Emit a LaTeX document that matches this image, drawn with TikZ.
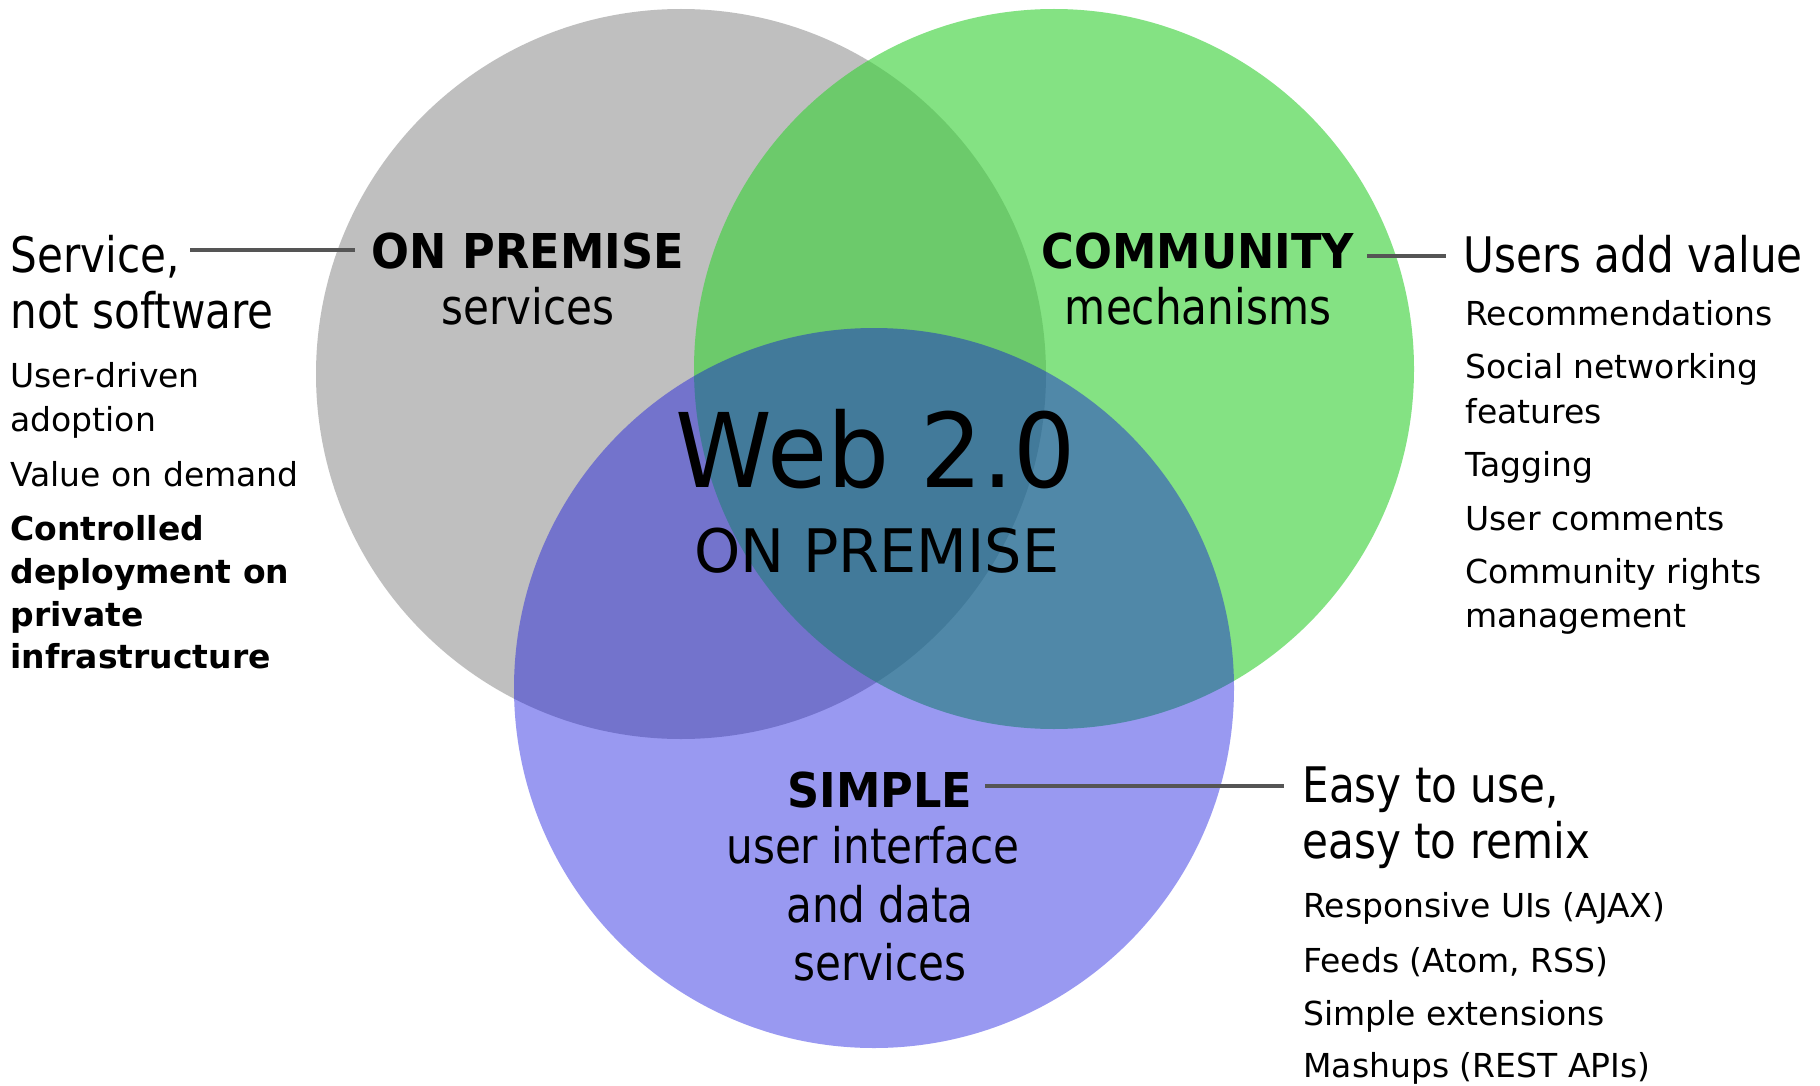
\documentclass[tikz,border=0pt]{standalone}
\usepackage{fontspec}
\setmainfont{DejaVu Sans}
\newfontfamily\fbig{DejaVu Sans}[FakeStretch=0.86]
\newfontfamily\fsmall{DejaVu Sans}
\newfontfamily\fhead{DejaVu Sans}[FakeStretch=0.93]
\newfontfamily\fweb{DejaVu Sans}[FakeStretch=0.95]
\newfontfamily\fonp{DejaVu Sans}[FakeStretch=0.98]
\definecolor{cgray}{RGB}{191,191,191}
\definecolor{cgreen}{RGB}{58,210,57}
\definecolor{cblue}{RGB}{6,6,223}
\definecolor{cline}{RGB}{85,85,85}
\tikzset{
  big/.style={font=\fbig\fontsize{24.5}{28}\selectfont, anchor=base west, inner sep=0pt},
  small/.style={font=\fsmall\fontsize{16.5}{20}\selectfont, anchor=base west, inner sep=0pt},
  smallb/.style={font=\fsmall\bfseries\fontsize{16.5}{20}\selectfont, anchor=base west, inner sep=0pt},
  head/.style={font=\fhead\bfseries\fontsize{24}{28}\selectfont, anchor=base, inner sep=0pt},
  sub/.style={font=\fbig\fontsize{24.5}{28}\selectfont, anchor=base, inner sep=0pt},
  conn/.style={draw=cline, line width=2pt},
}
\begin{document}
\begin{tikzpicture}[x=0.5pt,y=-0.5pt]
\useasboundingbox[fill=white] (0,0) rectangle (1820,1086);
% circles
\fill[cgray] (681,374) circle[radius=182.5pt];
\fill[cgreen, fill opacity=0.625] (1054,369) circle[radius=180pt];
\fill[cblue, fill opacity=0.406] (874,688) circle[radius=180pt];
% centre
\node[anchor=base, inner sep=0pt, font=\fweb\fontsize{51.5}{56}\selectfont] (web) at (876,487) {Web 2.0};
\node[anchor=base, inner sep=0pt, font=\fonp\fontsize{30}{34}\selectfont] (onpc) at (877,572) {ON PREMISE};
% circle labels
\node[head] (onp) at (528,268) {ON PREMISE};
\node[sub] (onps) at (528,324) {services};
\node[head] (com) at (1198,268) {COMMUNITY};
\node[sub] (coms) at (1198,324) {mechanisms};
\node[head] (sim) at (880,807) {SIMPLE};
\node[sub] (sim1) at (873,863) {user interface};
\node[sub] (sim2) at (880,922) {and data};
\node[sub] (sim3) at (880,980) {services};
% left column
\node[big] (s1) at (10,272) {Service,};
\node[big] (s2) at (10,328) {not software};
\node[small] (s3) at (10,387) {User-driven};
\node[small] (s4) at (10,431) {adoption};
\node[small] (s5) at (10,486) {Value on demand};
\node[smallb] (s6) at (10,540) {Controlled};
\node[smallb] (s7) at (10,583) {deployment on};
\node[smallb] (s8) at (10,626) {private};
\node[smallb] (s9) at (10,668) {infrastructure};
% right column
\node[big] (r1) at (1463,272) {Users add value};
\node[small] (r2) at (1465,325) {Recommendations};
\node[small] (r3) at (1465,378) {Social networking};
\node[small] (r4) at (1465,423) {features};
\node[small] (r5) at (1465,476) {Tagging};
\node[small] (r6) at (1465,530) {User comments};
\node[small] (r7) at (1465,583) {Community rights};
\node[small] (r8) at (1465,627) {management};
% bottom right
\node[big] (e1) at (1302,802) {Easy to use,};
\node[big] (e2) at (1302,858) {easy to remix};
\node[small] (e3) at (1303,917) {Responsive UIs (AJAX)};
\node[small] (e4) at (1303,972) {Feeds (Atom, RSS)};
\node[small] (e5) at (1303,1025) {Simple extensions};
\node[small] (e6) at (1303,1077) {Mashups (REST APIs)};
% connectors
\coordinate (l1a) at (190,250);
\coordinate (l1b) at (355,250);
\coordinate (l2a) at (1367,256);
\coordinate (l2b) at (1446,256);
\coordinate (l3a) at (985,786);
\coordinate (l3b) at (1284,786);
\draw[conn] (l1a) -- (l1b);
\draw[conn] (l2a) -- (l2b);
\draw[conn] (l3a) -- (l3b);
\end{tikzpicture}
\end{document}
